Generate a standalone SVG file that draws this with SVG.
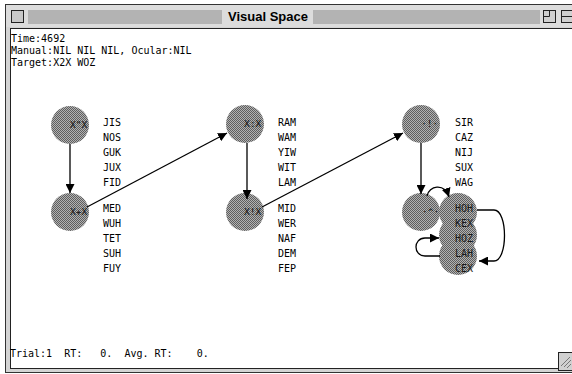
<svg xmlns="http://www.w3.org/2000/svg" width="572" height="374" viewBox="0 0 572 374">
<style>
.mono{font-family:"DejaVu Sans Mono","Liberation Mono",monospace;font-size:10px;fill:#000}
.lbl{font-family:"DejaVu Sans Mono","Liberation Mono",monospace;font-size:9.5px;fill:#111}
.node{fill:url(#dither)}
.conn{stroke:#000;stroke-width:1.3;fill:none}
.stripe{stroke:#8a8a8a;stroke-width:1}
</style>
<defs>
<pattern id="dither" width="2" height="2" patternUnits="userSpaceOnUse">
<rect width="2" height="2" fill="#b2b2b2"/>
<rect width="1" height="1" fill="#5e5e5e"/>
<rect x="1" y="1" width="1" height="1" fill="#5e5e5e"/>
</pattern>
<marker id="ah" viewBox="0 0 10 10" refX="10" refY="5" markerWidth="9" markerHeight="9" markerUnits="userSpaceOnUse" orient="auto">
<path d="M0,0 L10,5 L0,10 Z" fill="#000"/>
</marker>
</defs>

<g id="window">
<rect x="0" y="0" width="572" height="374" fill="#fff"/>
<rect x="5.5" y="4.5" width="580" height="368" fill="#d4d4d4" stroke="#333" stroke-width="1"/>
<rect x="6" y="5" width="580" height="22" fill="#dcdcdc"/>
<g class="stripe">
<line x1="28" y1="11" x2="222" y2="11"/><line x1="28" y1="13" x2="222" y2="13"/><line x1="28" y1="15" x2="222" y2="15"/><line x1="28" y1="17" x2="222" y2="17"/><line x1="28" y1="19" x2="222" y2="19"/><line x1="28" y1="21" x2="222" y2="21"/><line x1="28" y1="23" x2="222" y2="23"/>
<line x1="313" y1="11" x2="540" y2="11"/><line x1="313" y1="13" x2="540" y2="13"/><line x1="313" y1="15" x2="540" y2="15"/><line x1="313" y1="17" x2="540" y2="17"/><line x1="313" y1="19" x2="540" y2="19"/><line x1="313" y1="21" x2="540" y2="21"/><line x1="313" y1="23" x2="540" y2="23"/>
</g>
<rect x="11.5" y="10.5" width="12" height="12" fill="#c8c8c8" stroke="#222" stroke-width="1"/>
<rect x="543.5" y="10.5" width="12" height="12" fill="#d0d0d0" stroke="#222" stroke-width="1"/>
<path d="M543.5,16.5 H549.5 V10.5" fill="none" stroke="#222"/>
<rect x="561.5" y="10.5" width="14" height="12" fill="#d0d0d0" stroke="#222" stroke-width="1"/>
<line x1="561" y1="16.5" x2="572" y2="16.5" stroke="#222"/>
<text x="268" y="21" text-anchor="middle" font-family="Liberation Sans, Arial, sans-serif" font-weight="bold" font-size="13" textLength="80" fill="#000">Visual Space</text>
<rect x="10.5" y="28.5" width="580" height="340" fill="#fff" stroke="#222" stroke-width="1"/>
<rect x="558.5" y="352.5" width="20" height="18" fill="#d0d0d0" stroke="#222" stroke-width="1"/>
<g stroke="#777" stroke-width="1">
<line x1="561" y1="366" x2="570" y2="357"/><line x1="564" y1="367" x2="571" y2="360"/><line x1="567" y1="368" x2="571" y2="364"/>
</g>
</g>

<g id="status">
<text class="mono" x="11" y="42">Time:4692</text>
<text class="mono" x="11" y="54">Manual:NIL NIL NIL, Ocular:NIL</text>
<text class="mono" x="11" y="66">Target:X2X WOZ</text>
<text class="mono" x="10" y="357" xml:space="preserve">Trial:1  RT:   0.  Avg. RT:    0.</text>
</g>

<g id="node1">
<circle class="node" cx="70" cy="125" r="19"/>
<text class="lbl" x="70" y="128">X"X</text>
<text class="mono" x="103" y="126">JIS</text>
<text class="mono" x="103" y="141">NOS</text>
<text class="mono" x="103" y="156">GUK</text>
<text class="mono" x="103" y="171">JUX</text>
<text class="mono" x="103" y="186">FID</text>
</g>
<g id="node2">
<circle class="node" cx="70" cy="212" r="19"/>
<text class="lbl" x="70" y="215">X+X</text>
<text class="mono" x="103" y="212">MED</text>
<text class="mono" x="103" y="227">WUH</text>
<text class="mono" x="103" y="242">TET</text>
<text class="mono" x="103" y="257">SUH</text>
<text class="mono" x="103" y="272">FUY</text>
</g>
<g id="node3">
<circle class="node" cx="245" cy="124" r="19"/>
<text class="lbl" x="244" y="127">X:X</text>
<text class="mono" x="278" y="126">RAM</text>
<text class="mono" x="278" y="141">WAM</text>
<text class="mono" x="278" y="156">YIW</text>
<text class="mono" x="278" y="171">WIT</text>
<text class="mono" x="278" y="186">LAM</text>
</g>
<g id="node4">
<circle class="node" cx="245" cy="212" r="19"/>
<text class="lbl" x="244" y="215">X!X</text>
<text class="mono" x="278" y="212">MID</text>
<text class="mono" x="278" y="227">WER</text>
<text class="mono" x="278" y="242">NAF</text>
<text class="mono" x="278" y="257">DEM</text>
<text class="mono" x="278" y="272">FEP</text>
</g>
<g id="node5">
<circle class="node" cx="421" cy="124" r="19"/>
<text class="lbl" x="421" y="127">·!·</text>
<text class="mono" x="455" y="126">SIR</text>
<text class="mono" x="455" y="141">CAZ</text>
<text class="mono" x="455" y="156">NIJ</text>
<text class="mono" x="455" y="171">SUX</text>
<text class="mono" x="455" y="186">WAG</text>
</g>
<g id="node6">
<circle class="node" cx="421" cy="212" r="19"/>
<text class="lbl" x="422" y="215">·^·</text>
</g>
<g id="node7">
<circle class="node" cx="458" cy="212" r="19"/>
<circle class="node" cx="458" cy="235" r="19"/>
<circle class="node" cx="458" cy="256" r="19"/>
<g fill="#1a1a1a">
<text class="mono" x="455" y="212" style="fill:#1a1a1a">HOH</text>
<text class="mono" x="455" y="227" style="fill:#1a1a1a">KEX</text>
<text class="mono" x="455" y="242" style="fill:#1a1a1a">HOZ</text>
<text class="mono" x="455" y="257" style="fill:#1a1a1a">LAH</text>
<text class="mono" x="455" y="272" style="fill:#1a1a1a">CEX</text>
</g>
</g>

<g id="connectors">
<line class="conn" x1="70" y1="144" x2="70" y2="193" marker-end="url(#ah)"/>
<line class="conn" x1="87" y1="207" x2="227" y2="133" marker-end="url(#ah)"/>
<line class="conn" x1="247" y1="143" x2="247" y2="199" marker-end="url(#ah)"/>
<line class="conn" x1="262" y1="207" x2="403" y2="133" marker-end="url(#ah)"/>
<line class="conn" x1="421" y1="143" x2="421" y2="194" marker-end="url(#ah)"/>
<path class="conn" d="M427,196 C429,186 444,182 449,197" marker-end="url(#ah)"/>
<path class="conn" d="M477,210 L494,210 C508,210 508,261 494,261 L479,261" marker-end="url(#ah)"/>
<path class="conn" d="M440,256 L425,256 C413,256 413,238 425,238 L439,238" marker-end="url(#ah)"/>
</g>
</svg>
